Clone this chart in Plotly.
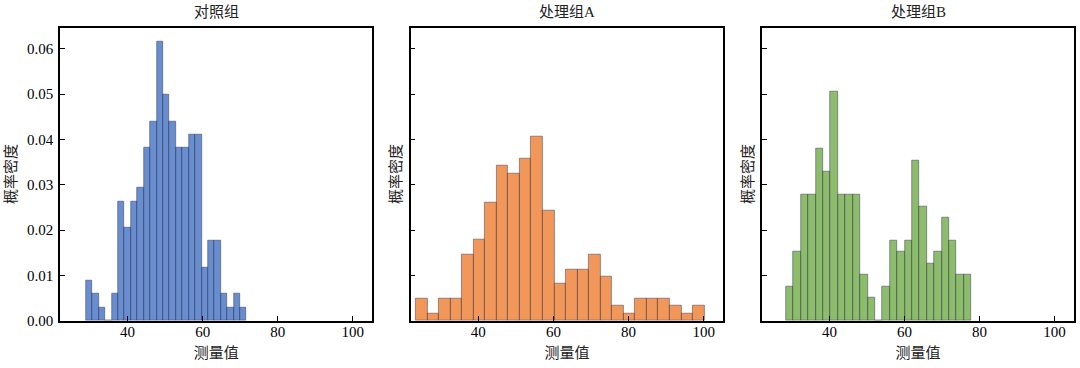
import numpy as np
import plotly.graph_objects as go

# ---------------- data ----------------
panel_titles = ["对照组", "处理组A", "处理组B"]
x_label = "测量值"
y_label = "概率密度"
x_ticks = [40, 60, 80, 100]
y_ticks = [0.00, 0.01, 0.02, 0.03, 0.04, 0.05, 0.06]

ctrl_bin_start = 28.92
ctrl_bin_width = 1.71
ctrl_density = [0.0088, 0.0059, 0.0029, 0.0, 0.0059, 0.0264, 0.0205, 0.0264, 0.0294,
                0.0382, 0.0440, 0.0616, 0.0499, 0.0440, 0.0382, 0.0382, 0.0411, 0.0411,
                0.0117, 0.0176, 0.0176, 0.0059, 0.0029, 0.0059, 0.0029]

a_bin_start = 23.33
a_bin_width = 3.073
a_density = [0.0049, 0.0016, 0.0049, 0.0049, 0.0146, 0.0179, 0.0260, 0.0342, 0.0325,
             0.0358, 0.0407, 0.0244, 0.0081, 0.0114, 0.0114, 0.0146, 0.0098, 0.0033,
             0.0016, 0.0049, 0.0049, 0.0049, 0.0033, 0.0016, 0.0033]

b_bin_start = 28.39
b_bin_width = 1.977
b_density = [0.0076, 0.0152, 0.0278, 0.0278, 0.0379, 0.0329, 0.0506, 0.0278, 0.0278,
             0.0278, 0.0101, 0.0051, 0.0, 0.0076, 0.0177, 0.0152, 0.0177, 0.0354,
             0.0253, 0.0126, 0.0152, 0.0228, 0.0177, 0.0101, 0.0101]

x_range = [22.0, 105.2]
y_range = [0.0, 0.0647]

# ---------------- styles / layout ----------------
colors = ["rgba(68,114,196,0.8)", "rgba(237,125,49,0.8)", "rgba(112,173,71,0.8)"]
FONT = "Liberation Serif, Noto Sans CJK SC, serif"
W, H = 1080, 368
x_domains_px = [(60, 372.3), (410.7, 723.3), (762, 1074)]
y_top_px, y_bot_px = 27.5, 320.7
ylab_px = [11, 396, 748]
title_y_px = 12.5


def fx(px):
    return px / W


def fy(px):
    return 1 - px / H


groups = [
    (ctrl_bin_start, ctrl_bin_width, ctrl_density),
    (a_bin_start, a_bin_width, a_density),
    (b_bin_start, b_bin_width, b_density),
]

fig = go.Figure()
annotations = []
ydom = [fy(y_bot_px), fy(y_top_px)]

for i, ((start, width, dens), title) in enumerate(zip(groups, panel_titles)):
    n = len(dens)
    centers = start + width * (np.arange(n) + 0.5)
    xa = "x" if i == 0 else f"x{i+1}"
    ya = "y" if i == 0 else f"y{i+1}"
    fig.add_trace(go.Bar(
        x=centers, y=dens, width=width,
        marker=dict(color=colors[i], line=dict(color="rgba(30,30,60,0.7)", width=0.6)),
        xaxis=xa, yaxis=ya, showlegend=False,
    ))
    x0, x1 = x_domains_px[i]
    xd = [fx(x0), fx(x1)]
    axkey = "" if i == 0 else str(i + 1)
    fig.update_layout(**{
        f"xaxis{axkey}": dict(
            domain=xd, anchor=ya, range=x_range, tickvals=x_ticks,
            ticks="inside", ticklen=5, tickwidth=1.3, tickcolor="black",
            ticklabelstandoff=-3,
            showline=True, linecolor="black", linewidth=1.5, mirror=True,
            showgrid=False, zeroline=False,
            tickfont=dict(family=FONT, size=15, color="black"),
            title=dict(text=x_label, font=dict(family=FONT, size=15, color="#222"), standoff=8),
            automargin=False,
        ),
        f"yaxis{axkey}": dict(
            domain=ydom, anchor=xa, range=y_range, tickvals=y_ticks,
            tickformat=".2f", showticklabels=(i == 0),
            ticks="inside", ticklen=5, tickwidth=1.3, tickcolor="black",
            ticklabelstandoff=2,
            showline=True, linecolor="black", linewidth=1.5, mirror=True,
            showgrid=False, zeroline=False,
            tickfont=dict(family=FONT, size=15, color="black"),
            automargin=False,
        ),
    })
    annotations.append(dict(
        text=title, x=(xd[0] + xd[1]) / 2, y=fy(title_y_px), xref="paper", yref="paper",
        xanchor="center", yanchor="middle", showarrow=False,
        font=dict(family=FONT, size=15, color="#222"),
    ))
    annotations.append(dict(
        text=y_label, x=fx(ylab_px[i]), y=(ydom[0] + ydom[1]) / 2, xref="paper", yref="paper",
        xanchor="center", yanchor="middle", textangle=-90, showarrow=False,
        font=dict(family=FONT, size=15, color="#222"),
    ))

fig.update_layout(
    width=W, height=H,
    margin=dict(l=0, r=0, t=0, b=0),
    paper_bgcolor="white", plot_bgcolor="white",
    bargap=0, annotations=annotations,
    font=dict(family=FONT, size=15, color="black"),
)

fig.write_html(
    "out.html",
    config={"displayModeBar": False},
    post_script="document.body.style.margin='0';document.body.style.padding='0';",
)
